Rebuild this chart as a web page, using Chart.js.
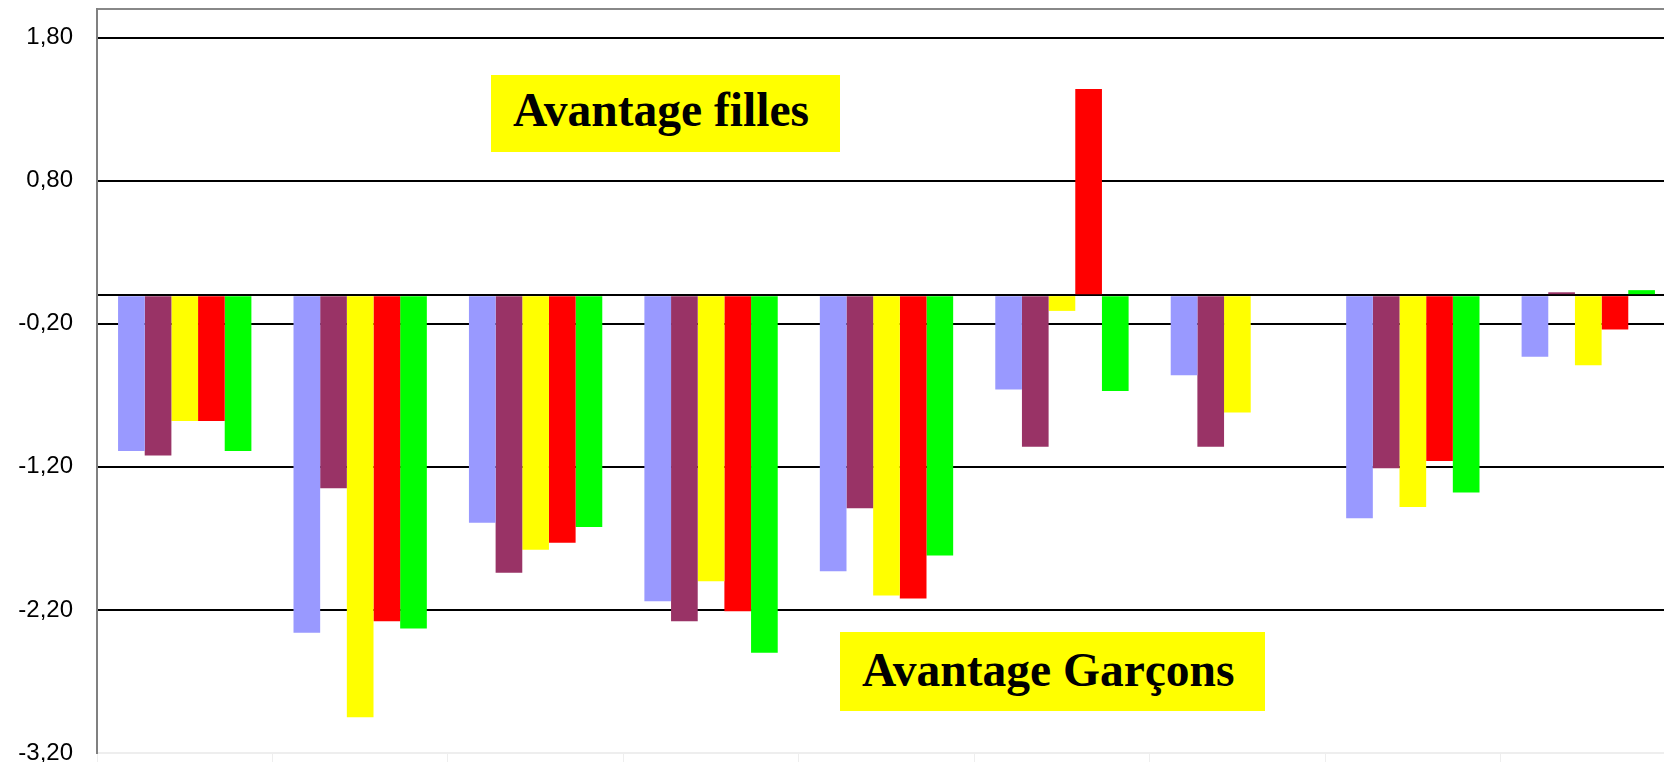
<!DOCTYPE html>
<html lang="fr">
<head>
<meta charset="utf-8">
<title>Avantage filles / garçons</title>
<script src="https://cdn.jsdelivr.net/npm/chart.js@4.4.1/dist/chart.umd.min.js"></script>
<style>
  html, body { margin: 0; padding: 0; background: #fff; overflow: hidden; }
  .wrap { position: relative; width: 1664px; height: 762px; overflow: hidden; }
  canvas { display: block; }
  .note {
    position: absolute;
    background: #ffff00;
    font-family: "Liberation Serif", "Times New Roman", serif;
    font-weight: bold;
    font-size: 47.5px;
    line-height: 47px;
    color: #000;
    white-space: nowrap;
  }
  .note span { position: absolute; }
</style>
</head>
<body>
<div class="wrap">
  <canvas id="chart" width="1680" height="762"></canvas>
  <div class="note" style="left:491px; top:75px; width:349px; height:77px;"><span style="left:22px; top:12px;">Avantage filles</span></div>
  <div class="note" style="left:840px; top:632px; width:425px; height:79px;"><span style="left:22px; top:15px;">Avantage Garçons</span></div>
</div>
<script>
// catégories (libellés non visibles sur l'image d'origine)
const categories = ["1", "2", "3", "4", "5", "6", "7", "8", "9"];

// écarts par série
const serie1 = [-1.09, -2.36, -1.59, -2.14, -1.93, -0.66, -0.56, -1.56, -0.43];
const serie2 = [-1.12, -1.35, -1.94, -2.28, -1.49, -1.06, -1.06, -1.21, 0.02];
const serie3 = [-0.88, -2.95, -1.78, -2.00, -2.10, -0.11, -0.82, -1.48, -0.49];
const serie4 = [-0.88, -2.28, -1.73, -2.21, -2.12, 1.44, null, -1.16, -0.24];
const serie5 = [-1.09, -2.33, -1.62, -2.50, -1.82, -0.67, null, -1.38, 0.035];

// graduations de l'axe vertical (0 et 2 sans libellé)
const yTicks = [-3.2, -2.2, -1.2, -0.2, 0, 0.8, 1.8, 2.0];
const yLabels = ["-3,20", "-2,20", "-1,20", "-0,20", "", "0,80", "1,80", ""];

const colors = ["#9999FF", "#993366", "#FFFF00", "#FF0000", "#00FF00"];
const series = [serie1, serie2, serie3, serie4, serie5];

const ctx = document.getElementById("chart").getContext("2d");
new Chart(ctx, {
  type: "bar",
  data: {
    labels: categories,
    datasets: series.map((values, i) => ({
      label: "Série " + (i + 1),
      data: values,
      backgroundColor: colors[i],
      borderWidth: 0,
      categoryPercentage: 0.76,
      barPercentage: 1.0,
    })),
  },
  options: {
    responsive: false,
    animation: false,
    devicePixelRatio: 1,
    layout: { padding: { top: 9, right: 4, bottom: 0, left: 0 } },
    plugins: {
      legend: { display: false },
      tooltip: { enabled: false },
    },
    scales: {
      x: {
        ticks: { display: false },
        grid: { drawOnChartArea: false, drawTicks: true, tickLength: 9, color: "#eeeeee" },
        border: { color: "#eeeeee", width: 2 },
        afterFit: (scale) => { scale.height = 9; },
      },
      y: {
        min: -3.2,
        max: 2.0,
        afterBuildTicks: (scale) => {
          scale.ticks = yTicks.map((v) => ({ value: v }));
        },
        afterFit: (scale) => {
          scale.width = 97;
          scale.paddingTop = 0;
          scale.paddingBottom = 0;
        },
        ticks: {
          padding: 24,
          color: "#000",
          font: { family: "'Liberation Sans', Arial, sans-serif", size: 24 },
          callback: (value, index) => yLabels[index],
        },
        grid: {
          drawTicks: false,
          lineWidth: 2,
          color: (c) => {
            if (c.tick && c.tick.value === 2.0) return "#888888";
            if (c.tick && c.tick.value === -3.2) return "#eeeeee";
            return "#000000";
          },
        },
        border: { color: "#808080", width: 2 },
      },
    },
  },
});
</script>
</body>
</html>
